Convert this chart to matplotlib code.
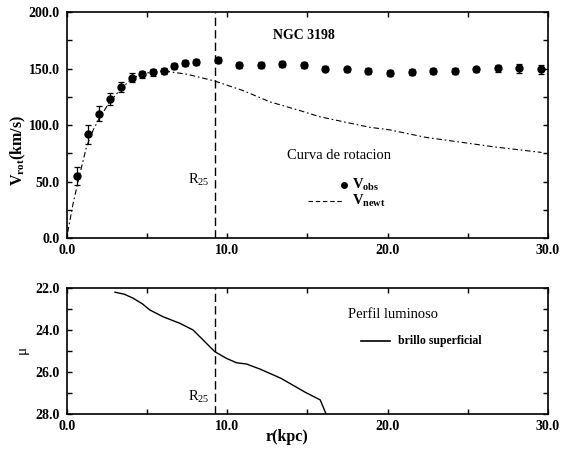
import matplotlib
matplotlib.use('Agg')
import matplotlib.pyplot as plt
from matplotlib.ticker import MultipleLocator, FormatStrFormatter

plt.rcParams['font.family'] = ['Liberation Serif', 'DejaVu Serif']
plt.rcParams['mathtext.fontset'] = 'custom'
plt.rcParams['mathtext.rm'] = 'Liberation Serif'
plt.rcParams['mathtext.bf'] = 'Liberation Serif:bold'
plt.rcParams['mathtext.it'] = 'Liberation Serif:italic'

# observed rotation curve
r_obs = [0.64, 1.33, 2.0, 2.69, 3.37, 4.04, 4.7, 5.37, 6.03, 6.7, 7.38, 8.05, 9.42,
         10.75, 12.08, 13.43, 14.78, 16.1, 17.47, 18.8, 20.15, 21.5, 22.85, 24.2,
         25.53, 26.87, 28.2, 29.55]
v_obs = [55, 92, 110, 123, 134, 142, 145, 147, 148, 152.5, 155, 156, 157.5,
         153, 153, 154, 153, 150, 149.3, 148, 146.3, 147.2, 148, 148,
         149.3, 150.2, 150.2, 149.3]
v_err = [7.8, 8.3, 6.8, 5.0, 4.6, 4.1, 3.2, 3.1, 2.7, 2.5, 2.5, 2.5, 2.5,
         2.5, 2.5, 2.5, 2.5, 2.5, 2.5, 2.5, 2.5, 2.5, 2.5, 2.5,
         2.5, 3.0, 4.0, 4.0]

# newtonian curve
r_newt = [0.05, 0.39, 0.81, 1.23, 1.64, 2.06, 2.68, 3.3, 4.03, 4.76, 5.8, 6.43, 7.5,
          9.23, 11.0, 12.66, 14.5, 15.8, 18.9, 20.05, 22.44, 24.5, 26.6, 29.6]
v_newt = [5, 30.7, 57, 81, 95.6, 107, 120.6, 131, 141, 145.7, 147.8, 147.2, 145,
          139, 130.5, 120.6, 113, 107.3, 98, 96, 89, 85, 80.8, 75.8]

# surface brightness profile
r_mu = [3.0, 3.6, 4.14, 4.7, 5.18, 6.0, 7.04, 7.87, 8.5, 9.22, 9.95, 10.58, 11.2,
        12.04, 13.35, 14.9, 15.8, 16.16]
mu = [22.2, 22.3, 22.49, 22.75, 23.05, 23.37, 23.68, 24.0, 24.48, 25.03, 25.35,
      25.56, 25.62, 25.86, 26.3, 26.98, 27.33, 28.0]

r25 = 9.23

fig = plt.figure(figsize=(5.62, 4.5), dpi=100)
ax1 = fig.add_axes([0.119, 0.471, 0.856, 0.502])
ax2 = fig.add_axes([0.119, 0.080, 0.856, 0.280])

for ax in (ax1, ax2):
    ax.set_xlim(0, 30)
    ax.xaxis.set_major_locator(MultipleLocator(10))
    ax.xaxis.set_minor_locator(MultipleLocator(5))
    ax.xaxis.set_major_formatter(FormatStrFormatter('%.1f'))
    ax.tick_params(which='both', direction='in', top=True, right=True,
                   length=3.5, width=1, labelsize=10)
    ax.tick_params(axis='y', pad=5)
    ax.tick_params(axis='x', pad=4)
    for s in ax.spines.values():
        s.set_linewidth(1.2)
    ax.axvline(r25, color='black', lw=1, dashes=(6, 3))

# top panel
ax1.set_ylim(0, 200)
ax1.yaxis.set_major_locator(MultipleLocator(50))
ax1.yaxis.set_minor_locator(MultipleLocator(25))
ax1.yaxis.set_major_formatter(FormatStrFormatter('%.1f'))
for lab in ax1.get_xticklabels() + ax1.get_yticklabels():
    lab.set_fontweight('bold')

ax1.plot(r_newt, v_newt, color='black', lw=0.8, dashes=(5, 2.5, 1.5, 2.5))
ax1.errorbar(r_obs, v_obs, yerr=v_err, fmt='o', color='black', ms=5,
             elinewidth=0.9, capsize=2.5, capthick=0.9)

ax1.text(0.428, 0.898, 'NGC 3198', transform=ax1.transAxes, fontsize=10,
         fontweight='bold', va='center')
ax1.text(0.297, 0.257, r'R$_{25}$', transform=ax1.transAxes, fontsize=10.5,
         ha='right', va='center')
ax1.text(0.457, 0.367, 'Curva de rotacion', transform=ax1.transAxes,
         fontsize=10.5, va='center')
ax1.plot([0.576], [0.235], 'o', color='black', ms=4, transform=ax1.transAxes)
ax1.text(0.593, 0.235, r'V$_{\mathbf{obs}}$', transform=ax1.transAxes,
         fontsize=10.5, fontweight='bold', va='center')
ax1.plot([0.501, 0.574], [0.164, 0.164], color='black', lw=0.8,
         dashes=(4, 2.5), transform=ax1.transAxes)
ax1.text(0.593, 0.164, r'V$_{\mathbf{newt}}$', transform=ax1.transAxes,
         fontsize=10.5, fontweight='bold', va='center')

# bottom panel
ax2.set_ylim(28, 22)
ax2.yaxis.set_major_locator(MultipleLocator(2))
ax2.yaxis.set_minor_locator(MultipleLocator(1))
ax2.yaxis.set_major_formatter(FormatStrFormatter('%.1f'))
for lab in ax2.get_xticklabels() + ax2.get_yticklabels():
    lab.set_fontweight('bold')

ax2.plot(r_mu, mu, color='black', lw=1)
ax2.text(0.297, 0.135, r'R$_{25}$', transform=ax2.transAxes, fontsize=10.5,
         ha='right', va='center')
ax2.text(0.584, 0.786, 'Perfil luminoso', transform=ax2.transAxes,
         fontsize=10.5, va='center')
ax2.plot([0.611, 0.672], [0.579, 0.579], color='black', lw=1.2,
         transform=ax2.transAxes)
ax2.text(0.688, 0.579, 'brillo superficial', transform=ax2.transAxes,
         fontsize=8.5, fontweight='bold', va='center')

# axis labels
fig.text(0.032, 0.665, r'V$_{\mathbf{rot}}$(km/s)', rotation=90, fontsize=11.5,
         fontweight='bold', ha='center', va='center')
fig.text(0.039, 0.222, 'μ', rotation=90, fontsize=11, ha='center', va='center')
fig.text(0.511, 0.029, 'r(kpc)', fontsize=11.5, fontweight='bold',
         ha='center', va='center')

fig.savefig('out.png', dpi=100)
